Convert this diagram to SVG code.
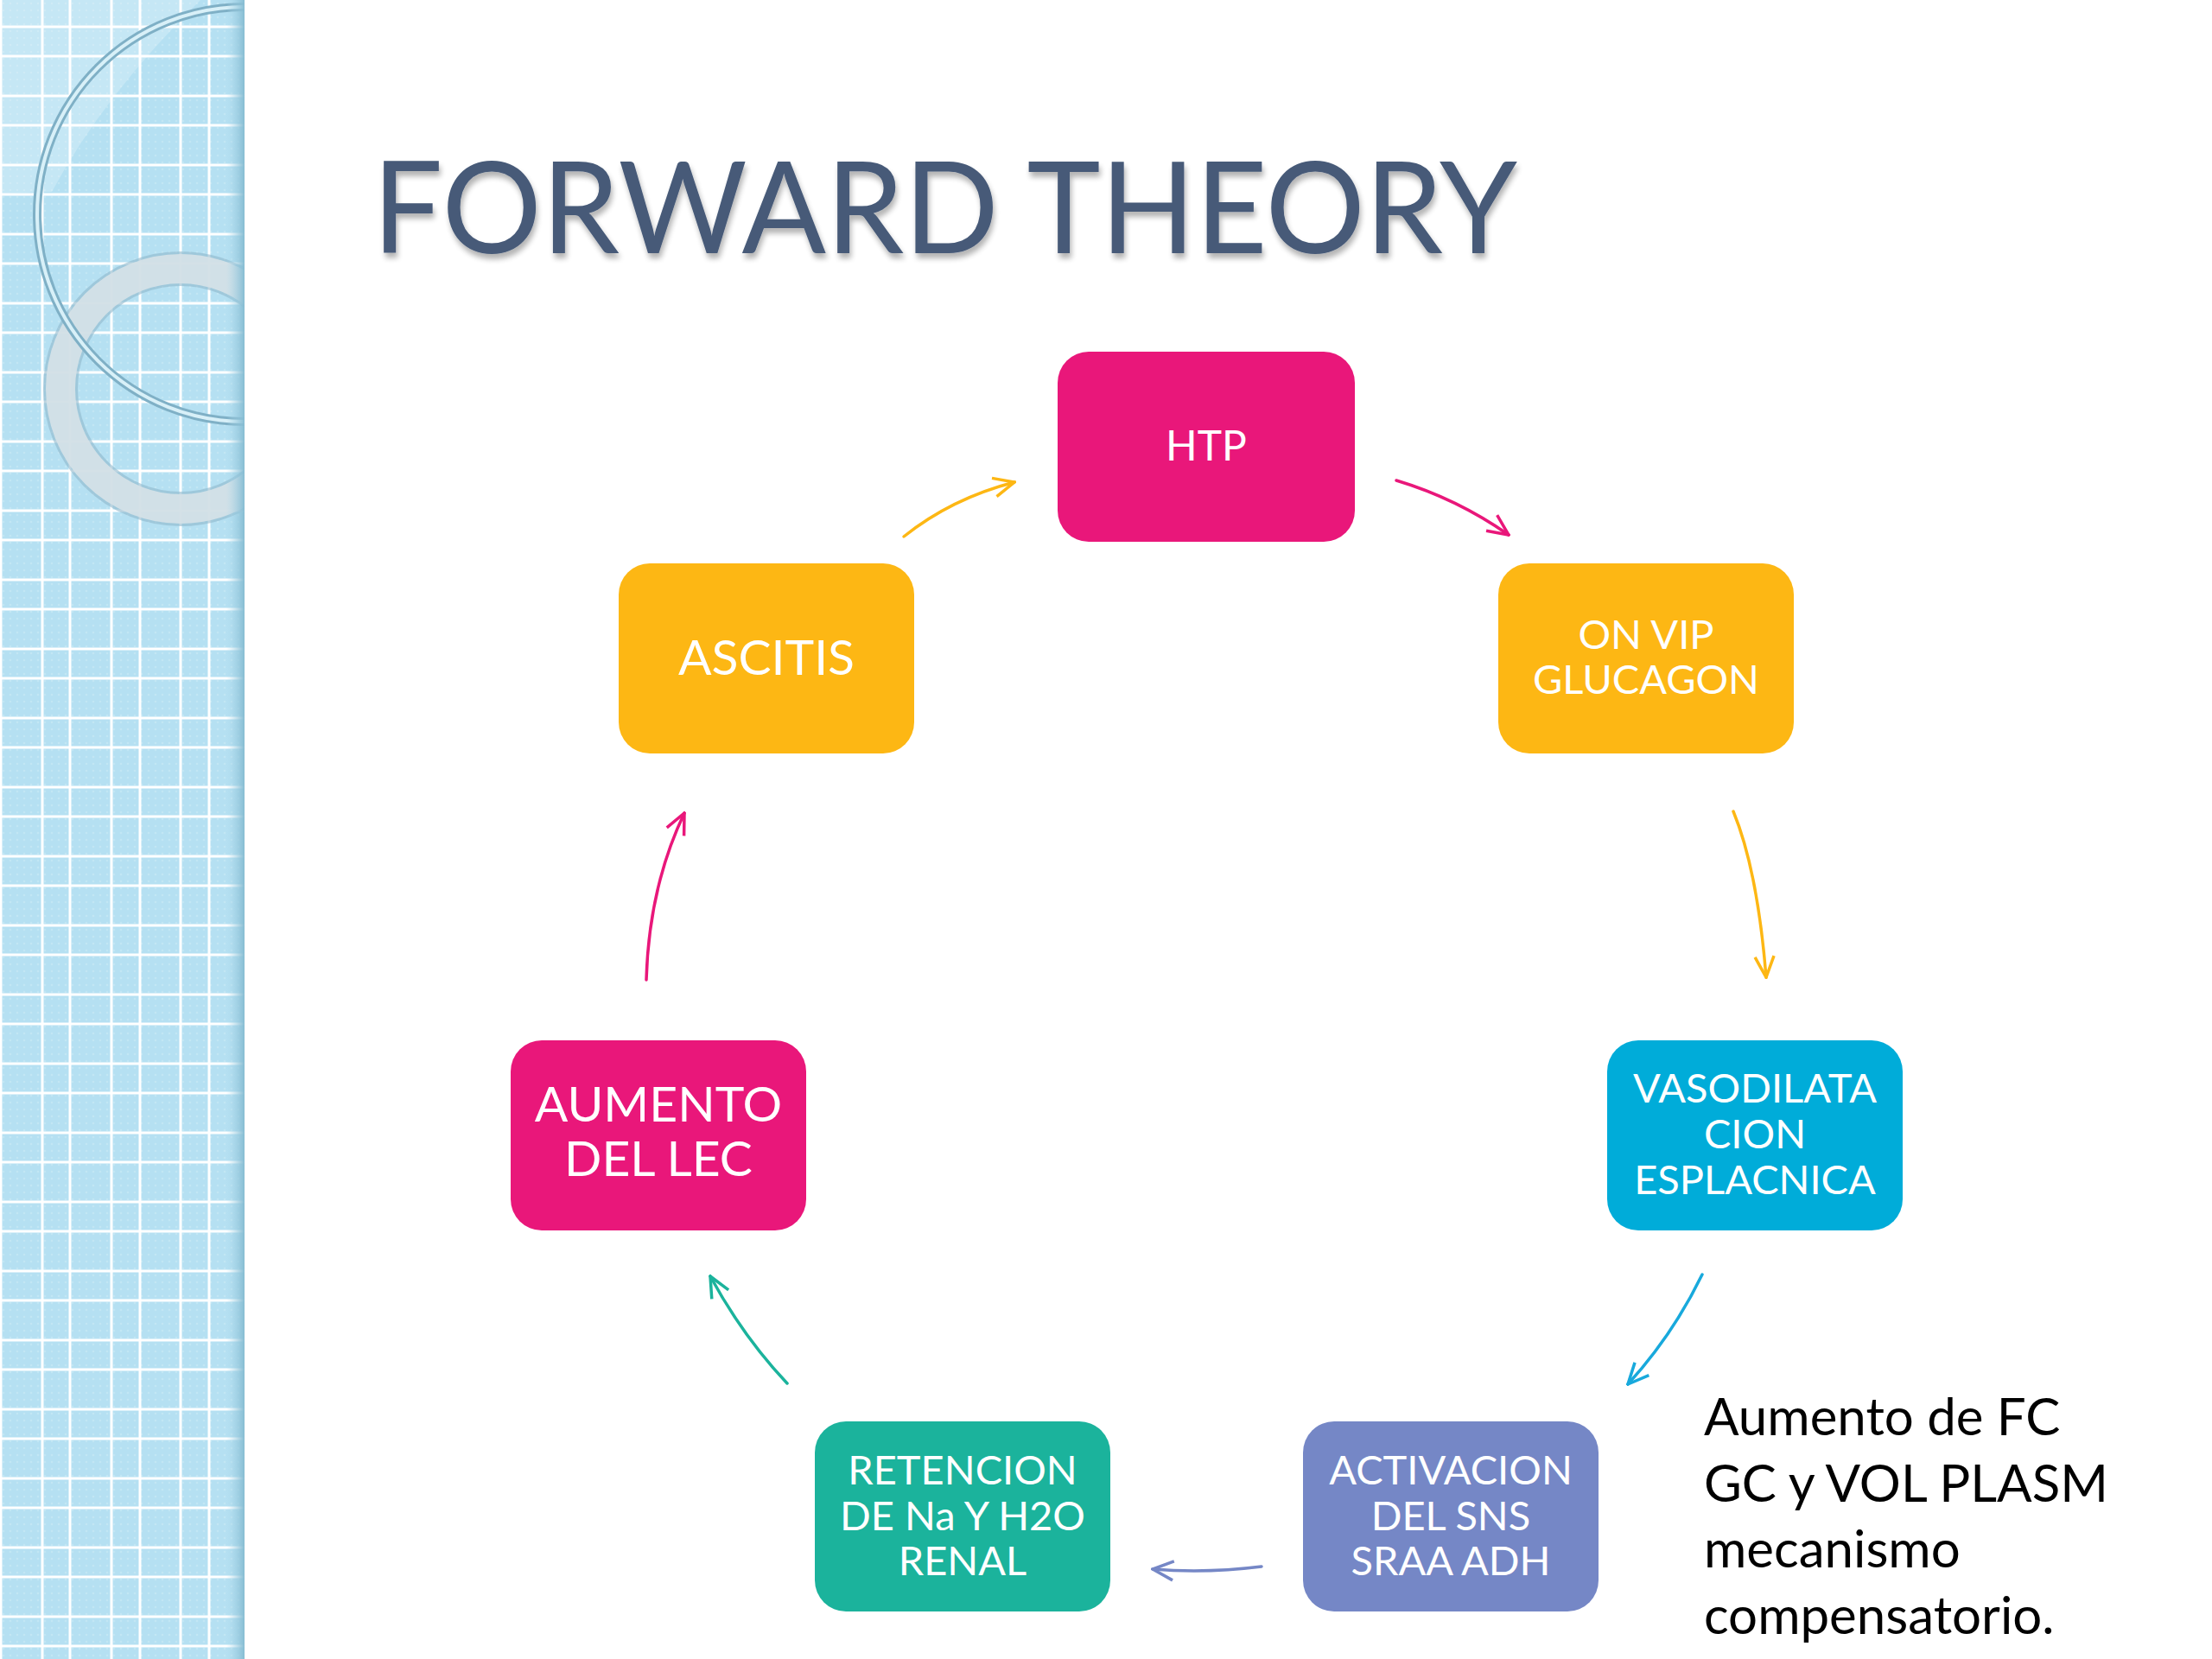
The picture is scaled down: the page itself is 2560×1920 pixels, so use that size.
<svg xmlns="http://www.w3.org/2000/svg" width="2560" height="1920" viewBox="0 0 2560 1920">
<style>
.box-text{font-family:Lato,"Open Sans","Liberation Sans",sans-serif;fill:#ffffff;text-anchor:middle}
.s{font-size:47px}
.b{font-size:57px}
.conn{fill:none;stroke-width:3.5;stroke-linecap:round}
.grid{stroke:#ffffff;stroke-width:3}
.note{font-family:Lato,"Open Sans","Liberation Sans",sans-serif;font-size:60px;fill:#000000}
</style>
<defs>
<linearGradient id="edge" x1="0" y1="0" x2="1" y2="0">
<stop offset="0" stop-color="#a9d7ea" stop-opacity="0"/>
<stop offset="1" stop-color="#86bcd2"/>
</linearGradient>
<pattern id="dots" width="8" height="8" patternUnits="userSpaceOnUse">
<circle cx="4" cy="4" r="1.3" fill="#ffffff" fill-opacity="0.18"/>
</pattern>
<clipPath id="stripClip"><rect x="0" y="0" width="283" height="1920"/></clipPath>
<filter id="tshadow" x="-5%" y="-20%" width="110%" height="150%">
<feGaussianBlur in="SourceAlpha" stdDeviation="3"/>
<feOffset dx="2" dy="6" result="b"/>
<feComponentTransfer><feFuncA type="linear" slope="0.3"/></feComponentTransfer>
<feMerge><feMergeNode/><feMergeNode in="SourceGraphic"/></feMerge>
</filter>
<marker id="ah-yellow" markerUnits="userSpaceOnUse" markerWidth="30" markerHeight="30" viewBox="0 0 30 30" refX="28" refY="15" orient="auto"><path d="M4,4 L28,15 L4,26" fill="none" stroke="#fdb714" stroke-width="3.5"/></marker>
<marker id="ah-pink" markerUnits="userSpaceOnUse" markerWidth="30" markerHeight="30" viewBox="0 0 30 30" refX="28" refY="15" orient="auto"><path d="M4,4 L28,15 L4,26" fill="none" stroke="#e9177a" stroke-width="3.5"/></marker>
<marker id="ah-blue" markerUnits="userSpaceOnUse" markerWidth="30" markerHeight="30" viewBox="0 0 30 30" refX="28" refY="15" orient="auto"><path d="M4,4 L28,15 L4,26" fill="none" stroke="#18a9dc" stroke-width="3.5"/></marker>
<marker id="ah-purple" markerUnits="userSpaceOnUse" markerWidth="30" markerHeight="30" viewBox="0 0 30 30" refX="28" refY="15" orient="auto"><path d="M4,4 L28,15 L4,26" fill="none" stroke="#7587c6" stroke-width="3.5"/></marker>
<marker id="ah-teal" markerUnits="userSpaceOnUse" markerWidth="30" markerHeight="30" viewBox="0 0 30 30" refX="28" refY="15" orient="auto"><path d="M4,4 L28,15 L4,26" fill="none" stroke="#1bb39c" stroke-width="3.5"/></marker>
</defs>

<rect x="0" y="0" width="2560" height="1920" fill="#ffffff"/>

<g id="strip" clip-path="url(#stripClip)">
<rect x="0" y="0" width="283" height="1920" fill="#b5e0f2"/>
<rect x="0" y="0" width="283" height="1920" fill="url(#dots)"/>
<path d="M0,0 L232,0 Q120,110 60,222 L0,224 Z" fill="#ffffff" fill-opacity="0.22"/>
<g class="grid">
<line x1="1" y1="0" x2="1" y2="1920"/><line x1="49" y1="0" x2="49" y2="1920"/>
<line x1="81" y1="0" x2="81" y2="1920"/><line x1="129" y1="0" x2="129" y2="1920"/>
<line x1="162" y1="0" x2="162" y2="1920"/><line x1="209" y1="0" x2="209" y2="1920"/>
<line x1="242" y1="0" x2="242" y2="1920"/>
<line x1="0" y1="31" x2="283" y2="31"/><line x1="0" y1="65" x2="283" y2="65"/>
<line x1="0" y1="111" x2="283" y2="111"/><line x1="0" y1="145" x2="283" y2="145"/>
<line x1="0" y1="191" x2="283" y2="191"/><line x1="0" y1="225" x2="283" y2="225"/>
<line x1="0" y1="271" x2="283" y2="271"/><line x1="0" y1="305" x2="283" y2="305"/>
<line x1="0" y1="351" x2="283" y2="351"/><line x1="0" y1="385" x2="283" y2="385"/>
<line x1="0" y1="431" x2="283" y2="431"/><line x1="0" y1="465" x2="283" y2="465"/>
<line x1="0" y1="511" x2="283" y2="511"/><line x1="0" y1="545" x2="283" y2="545"/>
<line x1="0" y1="591" x2="283" y2="591"/><line x1="0" y1="625" x2="283" y2="625"/>
<line x1="0" y1="671" x2="283" y2="671"/><line x1="0" y1="705" x2="283" y2="705"/>
<line x1="0" y1="751" x2="283" y2="751"/><line x1="0" y1="785" x2="283" y2="785"/>
<line x1="0" y1="831" x2="283" y2="831"/><line x1="0" y1="865" x2="283" y2="865"/>
<line x1="0" y1="911" x2="283" y2="911"/><line x1="0" y1="945" x2="283" y2="945"/>
<line x1="0" y1="991" x2="283" y2="991"/><line x1="0" y1="1025" x2="283" y2="1025"/>
<line x1="0" y1="1071" x2="283" y2="1071"/><line x1="0" y1="1105" x2="283" y2="1105"/>
<line x1="0" y1="1151" x2="283" y2="1151"/><line x1="0" y1="1185" x2="283" y2="1185"/>
<line x1="0" y1="1231" x2="283" y2="1231"/><line x1="0" y1="1265" x2="283" y2="1265"/>
<line x1="0" y1="1311" x2="283" y2="1311"/><line x1="0" y1="1345" x2="283" y2="1345"/>
<line x1="0" y1="1391" x2="283" y2="1391"/><line x1="0" y1="1425" x2="283" y2="1425"/>
<line x1="0" y1="1471" x2="283" y2="1471"/><line x1="0" y1="1505" x2="283" y2="1505"/>
<line x1="0" y1="1551" x2="283" y2="1551"/><line x1="0" y1="1585" x2="283" y2="1585"/>
<line x1="0" y1="1631" x2="283" y2="1631"/><line x1="0" y1="1665" x2="283" y2="1665"/>
<line x1="0" y1="1711" x2="283" y2="1711"/><line x1="0" y1="1745" x2="283" y2="1745"/>
<line x1="0" y1="1791" x2="283" y2="1791"/><line x1="0" y1="1825" x2="283" y2="1825"/>
<line x1="0" y1="1871" x2="283" y2="1871"/><line x1="0" y1="1905" x2="283" y2="1905"/>
</g>
<circle cx="209" cy="450" r="139" fill="none" stroke="#8fb7cb" stroke-width="40" stroke-opacity="0.6"/>
<circle cx="209" cy="450" r="139" fill="none" stroke="#d6e2e8" stroke-width="34" stroke-opacity="0.9"/>
<circle cx="283" cy="248" r="240" fill="none" stroke="#7fb0c6" stroke-width="10"/>
<circle cx="283" cy="248" r="240" fill="none" stroke="#d8f0f8" stroke-width="4"/>
<rect x="262" y="0" width="21" height="1920" fill="url(#edge)"/>
</g>

<text id="title" x="431" y="293" font-family="Lato,'Open Sans','Liberation Sans',sans-serif" font-size="147" fill="#475a78" textLength="1325" lengthAdjust="spacingAndGlyphs" filter="url(#tshadow)">FORWARD THEORY</text>

<g id="connectors">
<path class="conn" stroke="#fdb714" marker-end="url(#ah-yellow)" d="M1046,621 Q1101,577 1174,558"/>
<path class="conn" stroke="#e9177a" marker-end="url(#ah-pink)" d="M1616,556 Q1686,577 1746,619"/>
<path class="conn" stroke="#fdb714" marker-end="url(#ah-yellow)" d="M2006,939 Q2034,1007 2044,1131"/>
<path class="conn" stroke="#18a9dc" marker-end="url(#ah-blue)" d="M1970,1475 Q1936,1545 1884,1602"/>
<path class="conn" stroke="#7587c6" marker-end="url(#ah-purple)" d="M1460,1813 Q1396,1821 1334,1816"/>
<path class="conn" stroke="#1bb39c" marker-end="url(#ah-teal)" d="M911,1601 Q860,1547 822,1477"/>
<path class="conn" stroke="#e9177a" marker-end="url(#ah-pink)" d="M748,1134 Q751,1027 792,941"/>
</g>

<g id="node-htp">
<rect x="1224" y="407" width="344" height="220" rx="36" fill="#e9177a"/>
<text class="box-text" x="1396" y="533" font-size="48">HTP</text>
</g>
<g id="node-onvip">
<rect x="1734" y="652" width="342" height="220" rx="36" fill="#fdb714"/>
<text class="box-text s" x="1905" y="751">ON VIP</text>
<text class="box-text s" x="1905" y="803">GLUCAGON</text>
</g>
<g id="node-vaso">
<rect x="1860" y="1204" width="342" height="220" rx="36" fill="#00acd9"/>
<text class="box-text s" x="2031" y="1276">VASODILATA</text>
<text class="box-text s" x="2031" y="1329">CION</text>
<text class="box-text s" x="2031" y="1382">ESPLACNICA</text>
</g>
<g id="node-activacion">
<rect x="1508" y="1645" width="342" height="220" rx="36" fill="#7587c6"/>
<text class="box-text s" x="1679" y="1718">ACTIVACION</text>
<text class="box-text s" x="1679" y="1771">DEL SNS</text>
<text class="box-text s" x="1679" y="1823">SRAA ADH</text>
</g>
<g id="node-retencion">
<rect x="943" y="1645" width="342" height="220" rx="36" fill="#1bb39c"/>
<text class="box-text s" x="1114" y="1718">RETENCION</text>
<text class="box-text s" x="1114" y="1771">DE Na Y H2O</text>
<text class="box-text s" x="1114" y="1823">RENAL</text>
</g>
<g id="node-aumento">
<rect x="591" y="1204" width="342" height="220" rx="36" fill="#e9177a"/>
<text class="box-text b" x="762" y="1298">AUMENTO</text>
<text class="box-text b" x="762" y="1361">DEL LEC</text>
</g>
<g id="node-ascitis">
<rect x="716" y="652" width="342" height="220" rx="36" fill="#fdb714"/>
<text class="box-text b" x="887" y="781">ASCITIS</text>
</g>

<g id="note">
<text class="note" x="1972" y="1661">Aumento de FC</text>
<text class="note" x="1972" y="1738">GC y VOL PLASM</text>
<text class="note" x="1972" y="1814">mecanismo</text>
<text class="note" x="1972" y="1891">compensatorio.</text>
</g>
</svg>
